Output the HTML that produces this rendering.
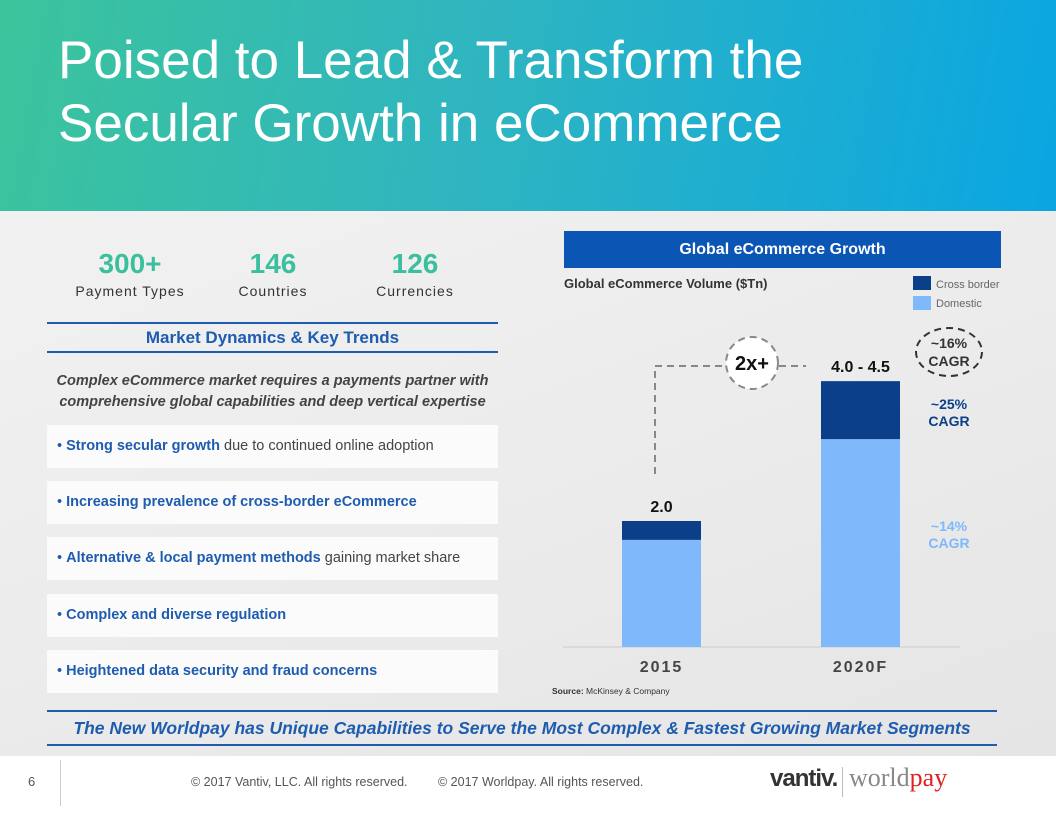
<!DOCTYPE html>
<html><head><meta charset="utf-8"><style>
body{margin:0;width:1056px;height:816px;position:relative;overflow:hidden;font-family:"Liberation Sans",sans-serif;background:linear-gradient(160deg,#f4f4f4 0%,#ebebeb 60%,#e4e4e4 100%)}
.a{position:absolute}
.hdr{left:0;top:0;width:1056px;height:211px;background:linear-gradient(100deg,#3cc49c 0%,#2fb5c0 45%,#0aa6e2 100%)}
.title{left:58px;top:29px;color:#fff;font-size:53px;line-height:63px}
.num{color:#3bbf9e;font-weight:bold;font-size:28px;text-align:center;width:140px}
.lab{color:#333;font-size:14px;letter-spacing:1px;text-align:center;width:160px}
.row{left:47px;width:451px;height:43px;background:#fbfbfb;font-size:14.5px;color:#444;line-height:43px;box-sizing:border-box;padding-left:10px}
.row b{color:#1e5cb0}
.bul{color:#1e5cb0}
</style></head><body>
<div class="a hdr"></div>
<div class="a title">Poised to Lead &amp; Transform the<br>Secular Growth in eCommerce</div>

<div class="a num" style="left:60px;top:248px">300+</div>
<div class="a lab" style="left:50px;top:283px">Payment Types</div>
<div class="a num" style="left:203px;top:248px">146</div>
<div class="a lab" style="left:193px;top:283px">Countries</div>
<div class="a num" style="left:345px;top:248px">126</div>
<div class="a lab" style="left:335px;top:283px">Currencies</div>

<div class="a" style="left:47px;top:322px;width:451px;height:2px;background:#1e5cb0"></div>
<div class="a" style="left:47px;top:328px;width:451px;text-align:center;font-weight:bold;font-size:17px;color:#1e5cb0">Market Dynamics &amp; Key Trends</div>
<div class="a" style="left:47px;top:351px;width:451px;height:2px;background:#1e5cb0"></div>
<div class="a" style="left:47px;top:371px;width:451px;text-align:center;font-weight:bold;font-style:italic;font-size:14.5px;color:#444;line-height:21px">Complex eCommerce market requires a payments partner with<br>comprehensive global capabilities and deep vertical expertise</div>

<div class="a row" style="top:425px"><span class="bul">•</span> <b>Strong secular growth</b> due to continued online adoption</div>
<div class="a row" style="top:481px"><span class="bul">•</span> <b>Increasing prevalence of cross-border eCommerce</b></div>
<div class="a row" style="top:537px"><span class="bul">•</span> <b>Alternative &amp; local payment methods</b> gaining market share</div>
<div class="a row" style="top:594px"><span class="bul">•</span> <b>Complex and diverse regulation</b></div>
<div class="a row" style="top:650px"><span class="bul">•</span> <b>Heightened data security and fraud concerns</b></div>

<div class="a" style="left:564px;top:231px;width:437px;height:37px;background:#0b55b5;color:#fff;font-weight:bold;font-size:16px;text-align:center;line-height:37px">Global eCommerce Growth</div>

<svg class="a" style="left:0;top:0" width="1056" height="816">
<g id="chart"></g>
</svg>

<div class="a" style="left:47px;top:710px;width:950px;height:2px;background:#1e5cb0"></div>
<div class="a" style="left:37px;top:718px;width:970px;text-align:center;font-weight:bold;font-style:italic;font-size:17.5px;color:#1e5cb0">The New Worldpay has Unique Capabilities to Serve the Most Complex &amp; Fastest Growing Market Segments</div>
<div class="a" style="left:47px;top:744px;width:950px;height:2px;background:#1e5cb0"></div>

<div class="a" style="left:0;top:756px;width:1056px;height:60px;background:#fff"></div>
<div class="a" style="left:28px;top:774px;font-size:13px;color:#555">6</div>
<div class="a" style="left:60px;top:760px;width:1px;height:46px;background:#ccc"></div>
<div class="a" style="left:191px;top:775px;font-size:12.5px;color:#555">© 2017 Vantiv, LLC.  All rights reserved.</div>
<div class="a" style="left:438px;top:775px;font-size:12.5px;color:#555">© 2017 Worldpay.  All rights reserved.</div>
<div class="a" style="left:770px;top:765px;font-size:24px;font-weight:bold;color:#333;letter-spacing:-1px">vantiv.</div>
<div class="a" style="left:842px;top:767px;width:1px;height:30px;background:#bbb"></div>
<div class="a" style="left:849px;top:763px;font-size:26px;font-family:'Liberation Serif',serif;color:#888">world<span style="color:#d22">pay</span></div>

<script>
const categories=["2015","2020F"];
const domestic=[1.7,3.3];
const crossBorder=[0.3,0.92];
const totalLabels=["2.0","4.0 - 4.5"];
const NS="http://www.w3.org/2000/svg";
const g=document.getElementById('chart');
const baseY=647,pxPer=63,barW=79;
const xCenter=i=>661.5+i*199;
const y=v=>baseY-v*pxPer;
function el(t,a,txt){const e=document.createElementNS(NS,t);for(const k in a)e.setAttribute(k,a[k]);if(txt!=null)e.textContent=txt;g.appendChild(e);return e;}
let e;
e=el('text',{x:564,y:288,'font-size':13,'font-weight':'bold',fill:'#333'},'Global eCommerce Volume ($Tn)');


e=el('rect',{x:913,y:276,width:18,height:14,fill:'#0b3f8a'});


e=el('text',{x:936,y:288,'font-size':11,fill:'#666'},'Cross border');


e=el('rect',{x:913,y:296,width:18,height:14,fill:'#7fb8fb'});


e=el('text',{x:936,y:307,'font-size':11,fill:'#666'},'Domestic');


e=el('line',{x1:563,x2:960,y1:baseY,y2:baseY,stroke:'#ccc'});


categories.forEach((c,i)=>{
  const x=xCenter(i)-barW/2;
  let r=el('rect',{x:x,y:y(domestic[i]),width:barW,height:domestic[i]*pxPer,fill:'#7fb8fb'});
  
  
  r=el('rect',{x:x,y:y(domestic[i]+crossBorder[i]),width:barW,height:crossBorder[i]*pxPer,fill:'#0b3f8a'});
  
  
  let t=el('text',{x:xCenter(i),y:y(domestic[i]+crossBorder[i])-9,'text-anchor':'middle','font-size':16,'font-weight':'bold',fill:'#111'},totalLabels[i]);
  
  
  t=el('text',{x:xCenter(i),y:672,'text-anchor':'middle','font-size':16,'font-weight':'bold',fill:'#444','letter-spacing':2},c);
  
  
});
e=el('path',{d:'M655 474 V366 H733 M779 366 H806',fill:'none',stroke:'#888','stroke-width':2,'stroke-dasharray':'7 5'});


e=el('circle',{cx:752,cy:363,r:26,fill:'#fff',stroke:'#888','stroke-width':2,'stroke-dasharray':'7 5'});


e=el('text',{x:752,y:370,'text-anchor':'middle','font-size':20,'font-weight':'bold',fill:'#111'},'2x+');


e=el('ellipse',{cx:949,cy:352,rx:33,ry:24,fill:'none',stroke:'#333','stroke-width':2,'stroke-dasharray':'7 5'});


[['~16%',348,'#333','total-cagr-value'],['CAGR',366,'#333','total-cagr-label'],['~25%',409,'#0b3f8a','cross-border-cagr-value'],['CAGR',426,'#0b3f8a','cross-border-cagr-label'],['~14%',531,'#7fb8fb','domestic-cagr-value'],['CAGR',548,'#7fb8fb','domestic-cagr-label']].forEach(a=>{
  const t=el('text',{x:949,y:a[1],'text-anchor':'middle','font-size':14,'font-weight':'bold',fill:a[2]},a[0]);
  
  
});
e=el('text',{x:552,y:694,'font-size':8.5,fill:'#333'});
e.innerHTML='<tspan font-weight="bold">Source:</tspan> McKinsey &amp; Company';


</script>
</body></html>
